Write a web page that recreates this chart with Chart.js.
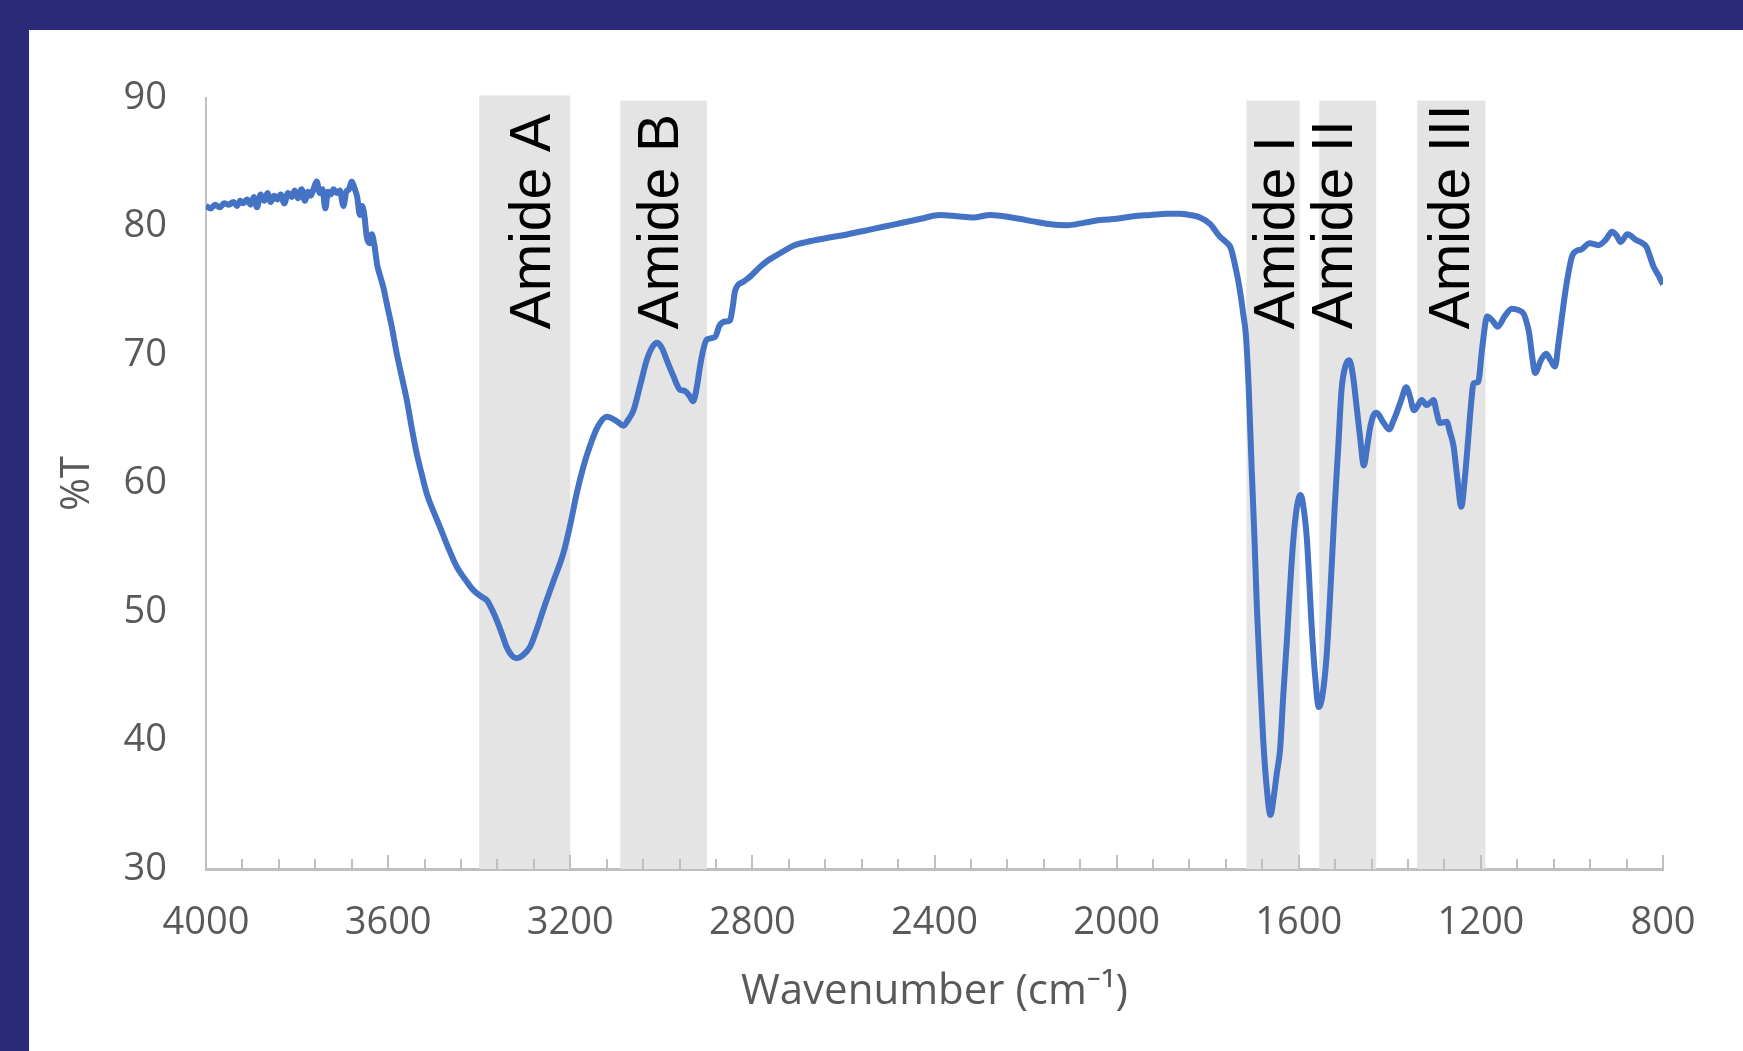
<!DOCTYPE html>
<html>
<head>
<meta charset="utf-8">
<title>FTIR spectrum</title>
<script src="https://cdn.jsdelivr.net/npm/chart.js@4.4.1/dist/chart.umd.min.js"></script>
<style>
  html, body { margin: 0; padding: 0; width: 1743px; height: 1051px; overflow: hidden; background: #2B2A7A; }
  #panel { position: absolute; left: 29px; top: 30px; width: 1714px; height: 1021px; background: #fff; }
  canvas { display: block; }
</style>
</head>
<body>
<div id="panel"><canvas id="ftir" width="1714" height="1021"></canvas></div>
<script>
// Spectrum (wavenumber in cm-1, %T)
var wavenumbers = [
  4000, 3990, 3980, 3970, 3960, 3950, 3940, 3932, 3925, 3918, 3910, 3902, 3895, 3888, 3880, 3872,
  3865, 3858, 3850, 3843, 3836, 3828, 3820, 3812, 3805, 3798, 3790, 3783, 3776, 3770, 3763, 3757,
  3750, 3744, 3738, 3732, 3726, 3720, 3713, 3706, 3698, 3692, 3686, 3680, 3674, 3668, 3662, 3657,
  3652, 3647, 3641, 3636, 3630, 3624, 3618, 3610, 3603, 3592, 3581, 3570, 3559, 3548, 3537, 3526,
  3515, 3500, 3486, 3468, 3449, 3430, 3413, 3395, 3383, 3372, 3362, 3350, 3340, 3328, 3318, 3305,
  3288, 3274, 3259, 3237, 3215, 3200, 3186, 3172, 3157, 3140, 3120, 3100, 3083, 3072, 3061, 3046,
  3032, 3020, 3009, 2998, 2988, 2974, 2959, 2948, 2938, 2930, 2922, 2915, 2908, 2900, 2882, 2872,
  2860, 2849, 2843, 2838, 2820, 2805, 2785, 2768, 2740, 2710, 2680, 2637, 2590, 2549, 2510, 2476,
  2430, 2388, 2350, 2315, 2278, 2230, 2183, 2150, 2110, 2070, 2036, 2000, 1963, 1925, 1890, 1861,
  1840, 1817, 1795, 1773, 1760, 1749, 1740, 1733, 1727, 1722, 1716, 1710, 1703, 1697, 1692, 1685,
  1678, 1670, 1662, 1655, 1648, 1641, 1634, 1626, 1619, 1612, 1604, 1596, 1589, 1582, 1577, 1572,
  1564, 1556, 1548, 1539, 1530, 1521, 1513, 1506, 1497, 1489, 1481, 1473, 1465, 1457, 1450, 1443,
  1436, 1429, 1415, 1401, 1393, 1385, 1374, 1364, 1356, 1347, 1338, 1330, 1319, 1311, 1304, 1297,
  1290, 1275, 1268, 1260, 1252, 1243, 1235, 1228, 1222, 1216, 1206, 1197, 1186, 1175, 1163, 1148,
  1132, 1118, 1106, 1100, 1094, 1087, 1081, 1068, 1057, 1047, 1037, 1030, 1023, 1012, 1000, 990,
  980, 961, 942, 925, 912, 902, 893, 878, 859, 845, 836, 828, 821, 810, 800
];
var transmittance = [
  81.6, 81.4, 81.7, 81.5, 81.8, 81.7, 81.9, 81.6, 82.0, 81.8, 82.1, 81.7, 82.3, 81.5, 82.5, 82.0,
  82.6, 81.9, 82.4, 82.1, 82.5, 81.8, 82.6, 82.3, 82.8, 82.2, 82.9, 82.0, 82.7, 82.4, 83.0, 83.5,
  82.6, 82.9, 81.4, 82.7, 82.5, 82.9, 82.6, 82.8, 81.6, 82.7, 82.9, 83.5, 83.0, 82.3, 80.9, 81.6,
  80.8, 79.2, 78.7, 79.4, 78.5, 77.0, 76.2, 75.2, 74.0, 72.2, 70.1, 68.3, 66.5, 64.3, 62.3, 60.7,
  59.2, 57.8, 56.6, 55.0, 53.5, 52.5, 51.7, 51.2, 50.9, 50.2, 49.4, 48.3, 47.3, 46.6, 46.4, 46.6,
  47.3, 48.6, 50.2, 52.4, 54.6, 56.8, 59.2, 61.2, 62.9, 64.4, 65.2, 64.9, 64.5, 65.0, 65.7, 67.7,
  69.6, 70.6, 70.95, 70.5, 69.6, 68.4, 67.3, 67.2, 66.8, 66.4, 67.5, 69.1, 70.4, 71.2, 71.4, 72.3,
  72.6, 72.7, 73.8, 75.0, 75.7, 76.1, 76.8, 77.3, 77.9, 78.5, 78.8, 79.1, 79.4, 79.7, 80.0, 80.25,
  80.6, 80.9, 80.8, 80.7, 80.9, 80.7, 80.4, 80.2, 80.1, 80.3, 80.5, 80.6, 80.8, 80.9, 81.0, 81.0,
  80.9, 80.7, 80.2, 79.2, 78.8, 78.3, 77.0, 75.8, 74.5, 73.2, 71.5, 67.5, 60.8, 55.5, 50.4, 45.0,
  40.0, 36.2, 34.2, 35.6, 37.5, 39.3, 43.5, 47.8, 52.0, 55.6, 58.2, 59.1, 58.0, 55.6, 52.5, 49.1,
  45.0, 42.6, 43.5, 46.5, 52.0, 58.2, 63.0, 67.3, 69.2, 69.6, 68.4, 66.0, 63.5, 61.4, 62.8, 64.4,
  65.3, 65.5, 64.8, 64.2, 64.8, 65.5, 66.6, 67.5, 66.8, 65.7, 66.1, 66.5, 66.1, 66.3, 66.5, 65.5,
  64.7, 64.8, 64.0, 62.9, 60.5, 58.2, 60.5, 63.4, 66.0, 67.8, 67.9, 70.6, 73.0, 72.7, 72.2, 73.0,
  73.6, 73.5, 73.2, 72.6, 71.7, 69.8, 68.6, 69.6, 70.1, 69.6, 69.1, 70.8, 72.7, 75.5, 77.65, 78.1,
  78.2, 78.7, 78.55, 79.0, 79.6, 79.3, 78.8, 79.4, 78.95, 78.7, 78.4, 77.6, 76.9, 76.2, 75.5
];

// Shaded amide regions (cm-1) and their labels
var bandNames = ['Amide A', 'Amide B', 'Amide I', 'Amide II', 'Amide III'];
var bandFrom = [3400, 3090, 1715, 1555, 1340];
var bandTo = [3200, 2900, 1598, 1430, 1190];
var bandTop = [90.2, 89.8, 89.8, 89.8, 89.8];
var labelBase = [3244, 2963, 1610, 1483, 1226];

var xTicks = [4000, 3600, 3200, 2800, 2400, 2000, 1600, 1200, 800];
var yTicks = [30, 40, 50, 60, 70, 80, 90];

var axisFont = '"Open Sans", "Noto Sans", sans-serif';
var axisGrey = '#595959';
var lineGrey = '#BFBFBF';

// gray bands, inner tick marks and the rotated labels
var amideBands = {
  id: 'amideBands',
  beforeDatasetsDraw: function (chart) {
    var ctx = chart.ctx;
    var xs = chart.scales.x;
    var ys = chart.scales.y;
    var bottom = ys.getPixelForValue(30);
    ctx.save();

    ctx.fillStyle = '#E4E4E4';
    for (var i = 0; i < bandNames.length; i++) {
      var x1 = xs.getPixelForValue(bandFrom[i]);
      var x2 = xs.getPixelForValue(bandTo[i]);
      var top = ys.getPixelForValue(bandTop[i]);
      ctx.fillRect(x1, top, x2 - x1, bottom - top);
    }

    // small ticks pointing up from the x axis, every 80 cm-1
    ctx.strokeStyle = lineGrey;
    ctx.lineWidth = 2;
    for (var w = 800; w <= 4000; w += 80) {
      var px = Math.round(xs.getPixelForValue(w));
      var len = (w % 400 === 0) ? 14 : 10;
      ctx.beginPath();
      ctx.moveTo(px, bottom);
      ctx.lineTo(px, bottom - len);
      ctx.stroke();
    }

    ctx.fillStyle = '#000';
    ctx.font = '57px "Liberation Sans", Arial, sans-serif';
    ctx.textAlign = 'left';
    ctx.textBaseline = 'alphabetic';
    for (var j = 0; j < bandNames.length; j++) {
      ctx.save();
      ctx.translate(xs.getPixelForValue(labelBase[j]), ys.getPixelForValue(72));
      ctx.rotate(-Math.PI / 2);
      ctx.fillText(bandNames[j], 0, 0);
      ctx.restore();
    }
    ctx.restore();
  }
};

var points = wavenumbers.map(function (w, i) {
  return { x: w, y: transmittance[i] };
});

var ctx = document.getElementById('ftir').getContext('2d');
var ftirChart = new Chart(ctx, {
  type: 'line',
  data: {
    datasets: [{
      label: '%T',
      data: points,
      borderColor: '#4472C4',
      borderWidth: 6,
      pointRadius: 0,
      cubicInterpolationMode: 'monotone',
      fill: false
    }]
  },
  options: {
    responsive: false,
    animation: false,
    layout: { padding: { top: 68, right: 80, bottom: 0, left: 0 } },
    plugins: {
      legend: { display: false },
      tooltip: { enabled: false }
    },
    scales: {
      x: {
        type: 'linear',
        reverse: true,
        min: 800,
        max: 4000,
        afterBuildTicks: function (scale) {
          scale.ticks = xTicks.map(function (v) { return { value: v }; });
        },
        ticks: {
          color: axisGrey,
          font: { family: axisFont, size: 38 },
          padding: 31,
          maxRotation: 0,
          autoSkip: false,
          callback: function (value) { return String(value); }
        },
        grid: { display: false, drawTicks: false },
        border: { display: true, color: lineGrey, width: 3 },
        title: {
          display: true,
          text: 'Wavenumber (cm\u207B\u00B9)',
          color: axisGrey,
          font: { family: axisFont, size: 42 },
          padding: { top: 0, bottom: 34 }
        },
        afterFit: function (scale) { scale.height = 182; }
      },
      y: {
        min: 30,
        max: 90,
        afterBuildTicks: function (scale) {
          scale.ticks = yTicks.map(function (v) { return { value: v }; });
        },
        ticks: {
          color: axisGrey,
          font: { family: axisFont, size: 38 },
          padding: 39,
          callback: function (value) { return String(value); }
        },
        grid: { display: false, drawTicks: false },
        border: { display: true, color: lineGrey, width: 2 },
        title: {
          display: true,
          text: '%T',
          color: axisGrey,
          font: { family: axisFont, size: 40 },
          padding: { top: 25, bottom: 0 }
        },
        afterFit: function (scale) { scale.width = 177; }
      }
    }
  },
  plugins: [amideBands]
});
</script>
</body>
</html>
